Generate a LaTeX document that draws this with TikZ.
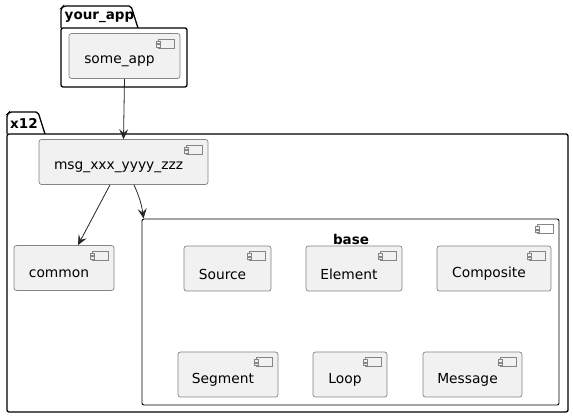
\documentclass[tikz,border=0pt]{standalone}
\usepackage{fontspec}
\setmainfont{DejaVu Sans}
\usetikzlibrary{arrows.meta}
\definecolor{compfill}{HTML}{F1F1F1}
\definecolor{compline}{HTML}{858585}
\tikzset{
	comp/.style={draw=compline, fill=compfill, line width=0.7pt, rounded corners=2.5pt, inner sep=0pt},
	pkg/.style={draw=black, line width=1.3pt, rounded corners=2pt, inner sep=0pt},
	word/.style={inner sep=0pt, font=\fontsize{13.8}{16}\selectfont},
	title/.style={inner sep=0pt, font=\fontsize{13.5}{16}\selectfont\bfseries},
	dep/.style={draw=black!85, line width=0.8pt, -{Stealth[length=10pt, width=9pt, inset=4pt]}},
}
\newcommand{\compicon}[1]{%
	\begin{scope}[shift={(#1.north east)}]
		\draw [compline, line width=0.6pt] (-22,6) rectangle (-6,15);
		\draw [compline, line width=0.6pt, fill=compfill] (-24,8) rectangle (-20,10.5);
		\draw [compline, line width=0.6pt, fill=compfill] (-24,11.5) rectangle (-20,14);
	\end{scope}}
\newcommand{\compbox}[5]{%
	\node [comp, minimum width=#4pt, minimum height=45pt] (#1) at (#2,#3) {};
	\node [word] (#1-t) at ([xshift=-5pt, yshift=-5.5pt]#1.center) {#5};
	\compicon{#1}}
\begin{document}
\begin{tikzpicture}[x=1pt, y=-1pt]
	\useasboundingbox (0,0) rectangle (573,419);
	\draw [pkg, fill=white] (61,28) -- (61,8.5) -- (63.5,6) -- (131,6) -- (138,28);
	\node [pkg, fill=white, minimum width=126pt, minimum height=59pt] (your_app) at (124,57.5) {};
	\node [title, anchor=west] (your_app-t) at (64.5,17) {your\_app};
	\draw [pkg, fill=white] (7,134) -- (7,114.5) -- (9.5,112) -- (38,112) -- (45,134);
	\node [pkg, fill=white, minimum width=561pt, minimum height=278pt] (x12) at (287.5,273) {};
	\node [title, anchor=west] (x12-t) at (10,123) {x12};
	\compbox{some_app}{124.5}{56}{111}{some\_app}
	\compbox{msg}{123.5}{162}{169}{msg\_xxx\_yyyy\_zzz}
	\compbox{common}{64}{268}{100}{common}
	\node [draw=black, line width=0.9pt, rounded corners=2pt, minimum width=417pt, minimum height=186pt, inner sep=0pt] (base) at (350.5,312) {};
	\compicon{base}
	\node [title] (base-t) at (351,239) {base};
	\compbox{Source}{227.5}{268.5}{87}{Source}
	\compbox{Element}{354}{268.5}{96}{Element}
	\compbox{Composite}{494}{268.5}{114}{Composite}
	\compbox{Segment}{228}{374.5}{100}{Segment}
	\compbox{Loop}{350}{374.5}{74}{Loop}
	\compbox{Message}{472.5}{374.5}{99}{Message}
	\draw [dep] (some_app.south) -- (msg.north);
	\draw [dep] ([xshift=-13.5pt]msg.south) -- ([xshift=14pt]common.north);
	\draw [dep] ([xshift=10.5pt]msg.south) to [bend left=8] ([xshift=2pt]base.north west);
\end{tikzpicture}
\end{document}
